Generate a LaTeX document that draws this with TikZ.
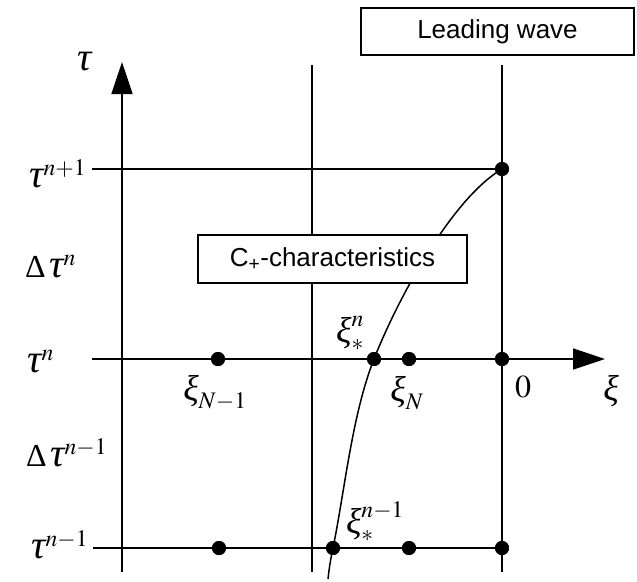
\documentclass[tikz,border=0pt]{standalone}
\usepackage{mathptmx}
\usepackage[no-math]{fontspec}
\newfontfamily\arialf{Liberation Sans}
\newfontfamily\tnrf{Liberation Serif}
\newcommand{\gtau}{\mbox{\fontsize{40}{44}\selectfont\tnrf\itshape τ}}
\newcommand{\gxi}{\mbox{\fontsize{36}{40}\selectfont\tnrf\itshape ξ}}
\newcommand{\gDelta}{\mbox{\tnrf Δ}}
\usetikzlibrary{arrows.meta}
\tikzset{
  ln/.style={line width=1.7pt},
  axisarrow/.style={ln, -{Triangle[length=32pt,width=21pt]}},
  dot/.style={circle, fill=black, inner sep=0pt, minimum size=14pt},
  lab/.style={inner sep=0pt, font=\fontsize{32}{36}\selectfont},
  txtbox/.style={draw, line width=1.7pt, fill=white, inner sep=0pt, font=\arialf\fontsize{26}{29}\selectfont}
}
\begin{document}
\begin{tikzpicture}[x=1pt,y=-1pt]
\useasboundingbox (0,0) rectangle (637,581);
% coordinates
\coordinate (axb) at (122,572);
\coordinate (axt) at (122,62);
\coordinate (mt) at (312,65);
\coordinate (mb) at (312,572);
\coordinate (rt) at (502,65);
\coordinate (rb) at (502,572);
\coordinate (h1l) at (92,169);
\coordinate (h2l) at (92,359);
\coordinate (h2r) at (605,359);
\coordinate (h3l) at (93,548);
\coordinate (cend) at (328,579);
% dots (placed as nodes)
\node[dot] (dtop) at (502,169) {};
\node[dot] (dnm1) at (218,359) {};
\node[dot] (dsn) at (374,359) {};
\node[dot] (dN) at (409,359) {};
\node[dot] (d0) at (502,359) {};
\node[dot] (enm1) at (219,548) {};
\node[dot] (esn) at (333,548) {};
\node[dot] (eN) at (409,548) {};
\node[dot] (e0) at (502,548) {};
% lines
\draw[axisarrow] (axb) -- (axt);
\draw[ln] (mb) -- (mt);
\draw[ln] (rb) -- (rt);
\draw[ln] (h1l) -- (dtop.center);
\draw[axisarrow] (h2l) -- (h2r);
\draw[ln] (h3l) -- (e0.center);
% characteristic curve
\draw[line width=1.5pt] (dtop.center) .. controls (450,200) and (396,303) .. (dsn.center)
  .. controls (352,415) and (345,489) .. (esn.center)
  .. controls (330,562) and (329,570) .. (cend);
% boxes
\node[txtbox, minimum width=273pt, minimum height=47pt] (lw) at (497.5,31.5) {Leading wave};
\node[txtbox, minimum width=269pt, minimum height=48pt] (cp) at (332.5,259) {C\textsubscript{+}-characteristics};
% redraw dots above
\foreach \d in {dtop,dnm1,dsn,dN,d0,enm1,esn,eN,e0} \fill (\d) circle (7pt);
% labels
\node[lab, anchor=base west] (ltau) at (77,70) {$\gtau$};
\node[lab, anchor=base west] (l1) at (29,187) {$\gtau^{n+1}$};
\node[lab, anchor=base west] (l2) at (25,277) {$\gDelta\,\gtau^{n}$};
\node[lab, anchor=base west] (l3) at (27,372) {$\gtau^{n}$};
\node[lab, anchor=base west] (l4) at (26,466) {$\gDelta\,\gtau^{n-1}$};
\node[lab, anchor=base west] (l5) at (31,558) {$\gtau^{n-1}$};
\node[lab] (lxn1) at (215,393) {$\gxi_{N-1}$};
\node[lab] (lxN) at (407,393) {$\gxi_{N}$};
\node[lab] (lxs) at (350,333) {$\gxi_{*}^{n}$};
\node[lab] (lxs1) at (375,522) {$\gxi_{*}^{n-1}$};
\node[lab] (lz) at (523,387) {$0$};
\node[lab] (lxi) at (611,391) {$\gxi$};
\end{tikzpicture}
\end{document}
